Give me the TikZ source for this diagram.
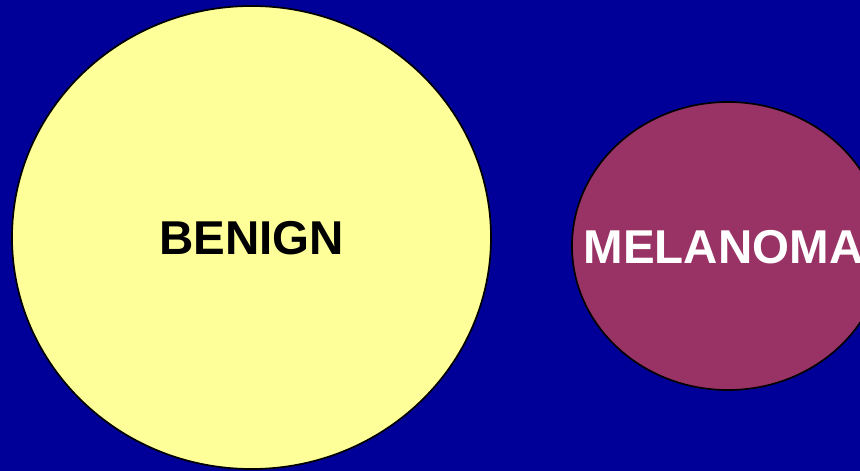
\documentclass[tikz,border=0pt]{standalone}
\usepackage{fontspec}
\setmainfont{Liberation Sans}
\definecolor{bgblue}{HTML}{000099}
\definecolor{benignyellow}{HTML}{FFFF99}
\definecolor{melpurple}{HTML}{993366}
\begin{document}
\begin{tikzpicture}[x=1pt,y=-1pt,
  blob/.style={draw=black,line width=1.7pt},
  lbl/.style={font=\fontsize{47.5}{50}\selectfont\bfseries,inner sep=0pt}]
\useasboundingbox (0,0) rectangle (860,471);
\clip (0,0) rectangle (860,471);
\fill[bgblue] (0,0) rectangle (860,471);
\draw[blob,fill=benignyellow] (251.5,237.5) ellipse [x radius=239.5pt,y radius=231.5pt];
\draw[blob,fill=melpurple] (728,246) ellipse [x radius=156pt,y radius=144pt];
\node[lbl,text=black] (benign) at (251.5,238.5) {BENIGN};
\node[lbl,text=white] (melanoma) at (723.5,247) {MELANOMA};
\end{tikzpicture}
\end{document}
